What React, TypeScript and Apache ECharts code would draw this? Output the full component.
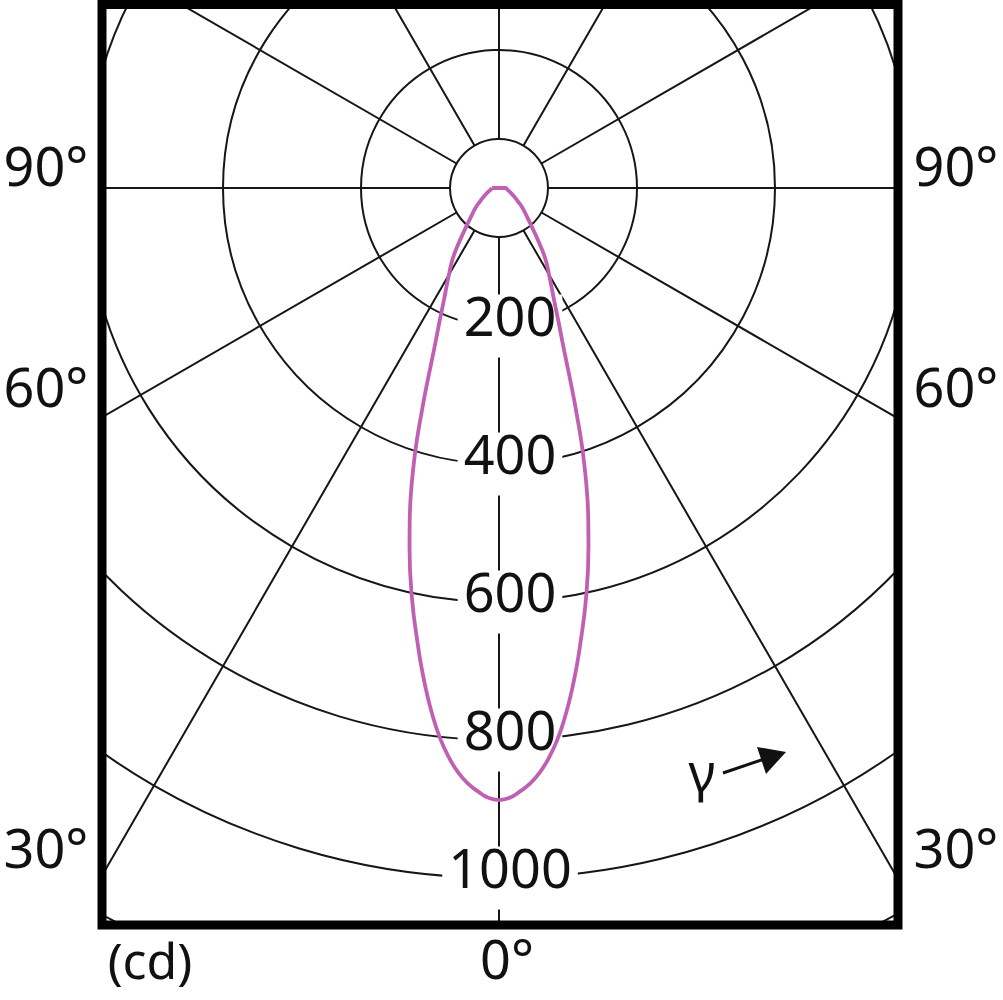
import React, { useEffect, useRef } from 'react';
import * as echarts from 'echarts';

// Luminous intensity (cd) against gamma angle (degrees from nadir); the curve is symmetric
const gammaDeg = [0, 1, 2, 3, 4, 5, 6, 7, 8, 9, 10, 12, 14, 15, 16, 17, 18, 19, 20, 22, 24, 26, 28, 30, 33, 36, 40, 45, 50, 55, 60, 70, 80, 90];
const intensityCd = [887, 884, 875, 864, 849, 829, 805, 776, 744, 710, 675, 607, 536, 500, 464, 425, 386, 345, 309, 250, 212, 183, 162, 145, 124, 100, 75, 56, 44, 33, 26, 17, 12, 10];

// ring labels (cd)
const ringLabels = [200, 400, 600, 800, 1000];
const ringStep = 200;
const radialStepDeg = 30;

// side angle labels
const sideLabels = ['90°', '60°', '30°'];
const bottomLabel = '0°';
const unitLabel = '(cd)';
const gammaLabel = 'γ';

const FONT = '"Noto Sans", "DejaVu Sans", sans-serif';
const GRID = '#161616';
const CURVE = '#c060b2';

export default function App() {
  const ref = useRef<HTMLDivElement>(null);

  useEffect(() => {
    document.body.style.margin = '0';
    const chart = echarts.init(ref.current as HTMLDivElement, null, { renderer: 'svg' });

    const cx = 499;
    const cy = 188;
    const outerPx = 900;
    const pxPerCd = 0.69;
    const maxCd = outerPx / pxPerCd;

    // start at the top on the left side, go down to nadir, then up the right side, close at the top
    const curve: number[][] = [];
    for (let i = gammaDeg.length - 1; i >= 0; i--) curve.push([intensityCd[i], gammaDeg[i]]);
    for (let i = 1; i < gammaDeg.length; i++) curve.push([intensityCd[i], 360 - gammaDeg[i]]);
    curve.push([intensityCd[gammaDeg.length - 1], gammaDeg[gammaDeg.length - 1]]);

    const lineStyle = { color: GRID, width: 2 };

    const sideY = [165, 386, 847];
    const txt = (t: string, x: number, y: number, size = 52) => ({
      type: 'text', x, y, z: 101,
      style: { text: t, fontSize: size, fontFamily: FONT, fill: '#111', textAlign: 'center', textVerticalAlign: 'middle' },
    });
    const textEls: any[] = [];
    sideLabels.forEach((t, i) => {
      textEls.push(txt(t, 46, sideY[i], 54));
      textEls.push(txt(t, 956, sideY[i], 54));
    });
    textEls.push(txt(bottomLabel, 507, 958, 54));
    textEls.push(txt(unitLabel, 150, 960, 50));
    textEls.push(txt(gammaLabel, 702, 770, 52));

    chart.setOption({
      animation: false,
      backgroundColor: '#fff',
      polar: [
        { center: [cx, cy], radius: [0, outerPx] },
        { center: [cx, cy], radius: [49, outerPx] },
      ],
      angleAxis: [
        {
          polarIndex: 0, type: 'value', min: 0, max: 360, startAngle: 270, clockwise: true,
          axisLine: { show: false }, axisTick: { show: false }, axisLabel: { show: false }, splitLine: { show: false },
        },
        {
          polarIndex: 1, type: 'value', min: 0, max: 360, interval: radialStepDeg, startAngle: 270, clockwise: true, z: 0,
          axisLine: { show: true, lineStyle },
          axisTick: { show: false }, axisLabel: { show: false },
          splitLine: { show: true, lineStyle },
        },
      ],
      radiusAxis: [
        {
          polarIndex: 0, type: 'value', min: 0, max: maxCd, interval: ringStep, z: 1,
          axisLine: { show: false }, axisTick: { show: false },
          splitLine: { show: true, lineStyle },
          axisLabel: {
            formatter: (v: number) => (ringLabels.indexOf(Math.round(v)) >= 0 && Math.abs(v - Math.round(v)) < 1e-6 ? Math.round(v) + '\n' : ''),
            fontSize: 54, fontFamily: FONT, color: '#111', lineHeight: 22,
            margin: 11, align: 'center', verticalAlign: 'middle',
            backgroundColor: '#fff', padding: [10, 6, 9, 6],
          },
        },
        { polarIndex: 1, type: 'value', min: 0, max: 1, show: false },
      ],
      series: [
        {
          type: 'line', coordinateSystem: 'polar', polarIndex: 0, data: curve,
          showSymbol: false, symbol: 'none', smooth: 0.5, z: 3,
          lineStyle: { color: CURVE, width: 3.8 },
        },
      ],
      graphic: {
        elements: [
          { type: 'rect', z: 100, shape: { x: 0, y: 0, width: 102, height: 1000 }, style: { fill: '#fff' } },
          { type: 'rect', z: 100, shape: { x: 898, y: 0, width: 105, height: 1000 }, style: { fill: '#fff' } },
          { type: 'rect', z: 100, shape: { x: 0, y: 925, width: 1003, height: 75 }, style: { fill: '#fff' } },
          { type: 'rect', z: 100, shape: { x: 0, y: 0, width: 1003, height: 4 }, style: { fill: '#fff' } },
          { type: 'rect', z: 101, shape: { x: 102, y: 4.5, width: 796, height: 920.5 }, style: { fill: 'none', stroke: '#000', lineWidth: 9 } },
          { type: 'line', z: 101, shape: { x1: 723, y1: 773, x2: 770, y2: 757 }, style: { stroke: '#111', lineWidth: 3 } },
          { type: 'polygon', z: 101, shape: { points: [[786, 752], [757, 747], [766, 774]] }, style: { fill: '#111' } },
          ...textEls,
        ],
      },
    });

    return () => chart.dispose();
  }, []);

  return <div ref={ref} style={{ position: 'absolute', left: 0, top: 0, width: 1003, height: 1000 }} />;
}
